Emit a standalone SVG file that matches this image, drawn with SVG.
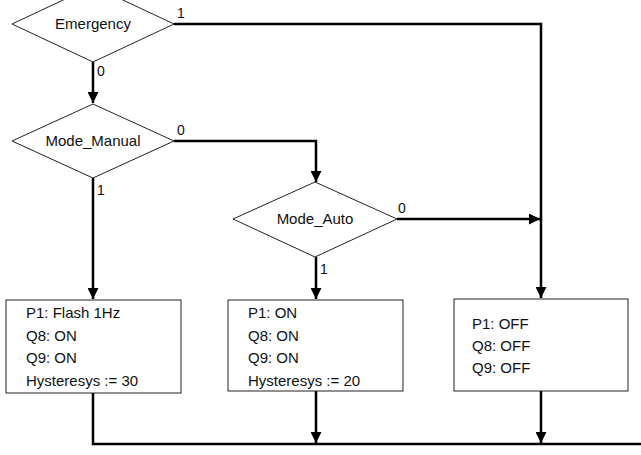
<svg xmlns="http://www.w3.org/2000/svg" width="641" height="455" viewBox="0 0 641 455">
<style>
.shape{fill:#fff;stroke:#222;stroke-width:1}
.t{font-family:"Liberation Sans",Arial,sans-serif;font-size:15px;fill:#111}
.c{text-anchor:middle}
.lbl{font-family:"Liberation Sans",Arial,sans-serif;font-size:14px;fill:#111}
.wire{fill:none;stroke:#000;stroke-width:2.5}
</style>
<defs>
<marker id="arr" viewBox="0 0 10 10" refX="10" refY="5" markerWidth="4.4" markerHeight="4.4" orient="auto" markerUnits="strokeWidth">
<path d="M0,0 L10,5 L0,10 Z" fill="#000"/>
</marker>
</defs>
<rect width="641" height="455" fill="#fff"/>
<g id="connectors">
<path class="wire" d="M174,24 H541 V298" marker-end="url(#arr)"/>
<path class="wire" d="M93,62 V103" marker-end="url(#arr)"/>
<path class="wire" d="M174,141 H316 V182" marker-end="url(#arr)"/>
<path class="wire" d="M93,178 V299" marker-end="url(#arr)"/>
<path class="wire" d="M397,219 H540" marker-end="url(#arr)"/>
<path class="wire" d="M316,257 V299" marker-end="url(#arr)"/>
<path class="wire" d="M93,393 V444 H641"/>
<path class="wire" d="M316,391 V443" marker-end="url(#arr)"/>
<path class="wire" d="M541,391 V443" marker-end="url(#arr)"/>
<text class="lbl" x="177" y="18">1</text>
<text class="lbl" x="97" y="76">0</text>
<text class="lbl" x="177" y="135">0</text>
<text class="lbl" x="97" y="195">1</text>
<text class="lbl" x="398" y="213">0</text>
<text class="lbl" x="320" y="274">1</text>
</g>
<g id="emergency">
<polygon class="shape" points="93,-14 174,24 93,62 12,24"/>
<text class="t c" x="93" y="29">Emergency</text>
</g>
<g id="mode_manual">
<polygon class="shape" points="93,104 174,141 93,178 12,141"/>
<text class="t c" x="93" y="146">Mode_Manual</text>
</g>
<g id="mode_auto">
<polygon class="shape" points="315,182 397,219 315,257 233,219"/>
<text class="t c" x="315" y="224">Mode_Auto</text>
</g>
<g id="box_manual">
<rect class="shape" x="6" y="300" width="175" height="93"/>
<text class="t" x="26" y="318">P1: Flash 1Hz</text>
<text class="t" x="26" y="341">Q8: ON</text>
<text class="t" x="26" y="363">Q9: ON</text>
<text class="t" x="26" y="386">Hysteresys := 30</text>
</g>
<g id="box_auto">
<rect class="shape" x="228" y="300" width="175" height="91"/>
<text class="t" x="248" y="318">P1: ON</text>
<text class="t" x="248" y="341">Q8: ON</text>
<text class="t" x="248" y="363">Q9: ON</text>
<text class="t" x="248" y="386">Hysteresys := 20</text>
</g>
<g id="box_off">
<rect class="shape" x="454" y="299" width="174" height="92"/>
<text class="t" x="472" y="329">P1: OFF</text>
<text class="t" x="472" y="351">Q8: OFF</text>
<text class="t" x="472" y="373">Q9: OFF</text>
</g>
</svg>
